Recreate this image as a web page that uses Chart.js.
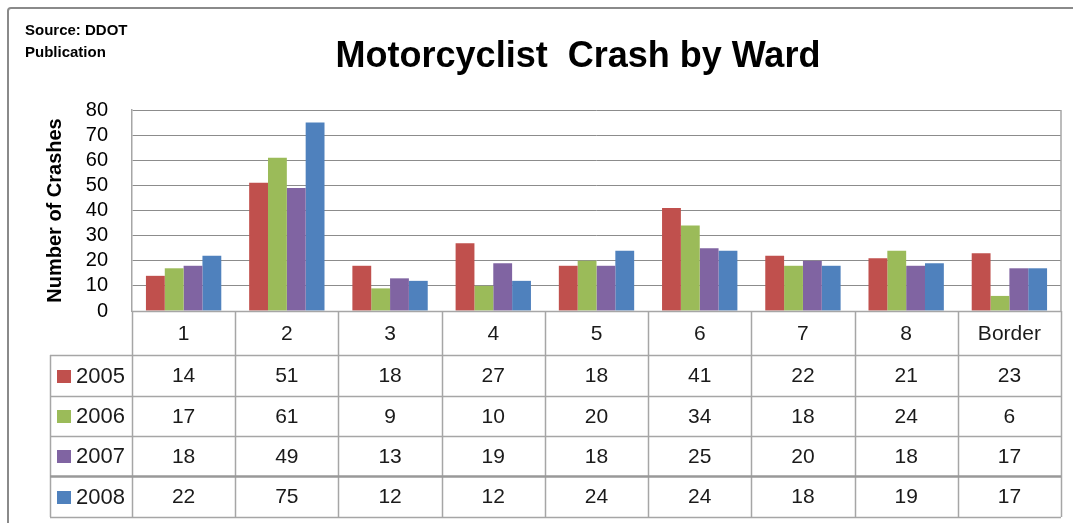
<!DOCTYPE html>
<html>
<head>
<meta charset="utf-8">
<script src="https://cdn.jsdelivr.net/npm/chart.js@4.4.1/dist/chart.umd.min.js"></script>
<style>
  html, body { margin: 0; padding: 0; background: #fff; }
  #wrap { position: relative; width: 1073px; height: 523px; overflow: hidden; font-family: "Liberation Sans", Arial, sans-serif; }
  #chart { position: absolute; left: 0; top: 0; }
  #frame { position: absolute; left: 7px; top: 7px; width: 1080px; height: 540px; border: 2px solid #8a8a8a; border-radius: 4px; box-sizing: border-box; }
  #title { position: absolute; left: 578px; top: 37px; transform: translateX(-50%); font-size: 36px; line-height: 1; font-weight: bold; white-space: pre; color: #000; }
  #source { position: absolute; left: 25px; top: 19px; font-size: 15px; line-height: 22px; font-weight: bold; color: #000; }
</style>
</head>
<body>
<div id="wrap">
  <div id="frame"></div>
  <canvas id="chart" width="1073" height="523"></canvas>
  <div id="source">Source: DDOT<br>Publication</div>
  <div id="title">Motorcyclist  Crash by Ward</div>
</div>
<script>
// 구역별 오토바이 사고 건수
const wards = ['1', '2', '3', '4', '5', '6', '7', '8', 'Border'];
const years = ['2005', '2006', '2007', '2008'];
const crashes2005 = [14, 51, 18, 27, 18, 41, 22, 21, 23];
const crashes2006 = [17, 61, 9, 10, 20, 34, 18, 24, 6];
const crashes2007 = [18, 49, 13, 19, 18, 25, 20, 18, 17];
const crashes2008 = [22, 75, 12, 12, 24, 24, 18, 19, 17];
const yTicks = [0, 10, 20, 30, 40, 50, 60, 70, 80];

const seriesValues = [crashes2005, crashes2006, crashes2007, crashes2008];
const seriesColors = ['#C0504D', '#9BBB59', '#8064A2', '#4F81BD'];

// 표 레이아웃 (행 경계 y 좌표, 범례 열 왼쪽)
const tableRowEdges = [355, 396, 436, 476, 517];
const legendLeft = 50;
const lineColor = '#a6a6a6';

// 차트 아래 데이터 표 그리기
const dataTable = {
    id: 'dataTable',
    afterDraw(chart) {
        const ctx = chart.ctx;
        const area = chart.chartArea;
        const x = chart.scales.x;
        const colW = (area.right - area.left) / wards.length;
        const bottom = tableRowEdges[tableRowEdges.length - 1];

        ctx.save();
        ctx.strokeStyle = lineColor;
        ctx.lineWidth = 1.5;

        // 플롯 오른쪽 테두리
        ctx.beginPath();
        ctx.moveTo(area.right, area.top);
        ctx.lineTo(area.right, area.bottom);
        ctx.stroke();

        // 세로선 (구역 경계)
        for (let i = 0; i <= wards.length; i++) {
            const px = Math.round(area.left + i * colW) + 0.5;
            ctx.beginPath();
            ctx.moveTo(px, area.bottom);
            ctx.lineTo(px, bottom);
            ctx.stroke();
        }
        // 범례 열 세로선
        ctx.beginPath();
        ctx.moveTo(legendLeft + 0.5, tableRowEdges[0]);
        ctx.lineTo(legendLeft + 0.5, bottom);
        ctx.stroke();

        // 가로선
        ctx.beginPath();
        ctx.moveTo(area.left, area.bottom + 0.5);
        ctx.lineTo(area.right, area.bottom + 0.5);
        ctx.stroke();
        tableRowEdges.forEach((y, i) => {
            ctx.lineWidth = i === 3 ? 2.5 : 1.5;
            ctx.strokeStyle = i === 3 ? '#999' : lineColor;
            ctx.beginPath();
            ctx.moveTo(legendLeft, y + 0.5);
            ctx.lineTo(area.right, y + 0.5);
            ctx.stroke();
        });

        // 구역 이름
        ctx.fillStyle = '#1a1a1a';
        ctx.font = '21px "Liberation Sans", Arial, sans-serif';
        ctx.textAlign = 'center';
        ctx.textBaseline = 'middle';
        const catMid = (area.bottom + tableRowEdges[0]) / 2 + 1;
        wards.forEach((w, i) => ctx.fillText(w, x.getPixelForValue(i), catMid));

        // 연도별 값과 범례
        seriesValues.forEach((vals, r) => {
            const mid = (tableRowEdges[r] + tableRowEdges[r + 1]) / 2 + 1;
            ctx.textAlign = 'center';
            ctx.font = '21px "Liberation Sans", Arial, sans-serif';
            ctx.fillStyle = '#1a1a1a';
            vals.forEach((v, i) => ctx.fillText(String(v), x.getPixelForValue(i), mid));

            ctx.fillStyle = seriesColors[r];
            ctx.fillRect(57, Math.round(mid - 7), 14, 13);
            ctx.fillStyle = '#1a1a1a';
            ctx.textAlign = 'left';
            ctx.font = '22px "Liberation Sans", Arial, sans-serif';
            ctx.fillText(years[r], 76, mid);
        });
        ctx.restore();
    }
};

new Chart(document.getElementById('chart'), {
    type: 'bar',
    data: {
        labels: wards,
        datasets: years.map((y, i) => ({
            label: y,
            data: seriesValues[i],
            backgroundColor: seriesColors[i],
            borderWidth: 0,
            categoryPercentage: 0.73,
            barPercentage: 1.0
        }))
    },
    options: {
        responsive: false,
        animation: false,
        layout: { padding: { left: 43, top: 110, right: 12, bottom: 212 } },
        plugins: {
            legend: { display: false },
            title: { display: false },
            tooltip: { enabled: false }
        },
        scales: {
            x: { display: false },
            y: {
                min: 0,
                max: 80,
                afterFit: (s) => { s.width = 89; },
                afterBuildTicks: (s) => { s.ticks = yTicks.map(v => ({ value: v })); },
                grid: { color: '#8c8c8c', lineWidth: 1, drawTicks: false },
                border: { display: true, color: lineColor, width: 1.5 },
                ticks: {
                    autoSkip: false,
                    padding: 24,
                    color: '#000',
                    font: { family: '"Liberation Sans", Arial, sans-serif', size: 20 }
                },
                title: {
                    display: true,
                    text: 'Number of Crashes',
                    color: '#000',
                    padding: 0,
                    font: { family: '"Liberation Sans", Arial, sans-serif', size: 20, weight: 'bold' }
                }
            }
        }
    },
    plugins: [dataTable]
});
</script>
</body>
</html>
